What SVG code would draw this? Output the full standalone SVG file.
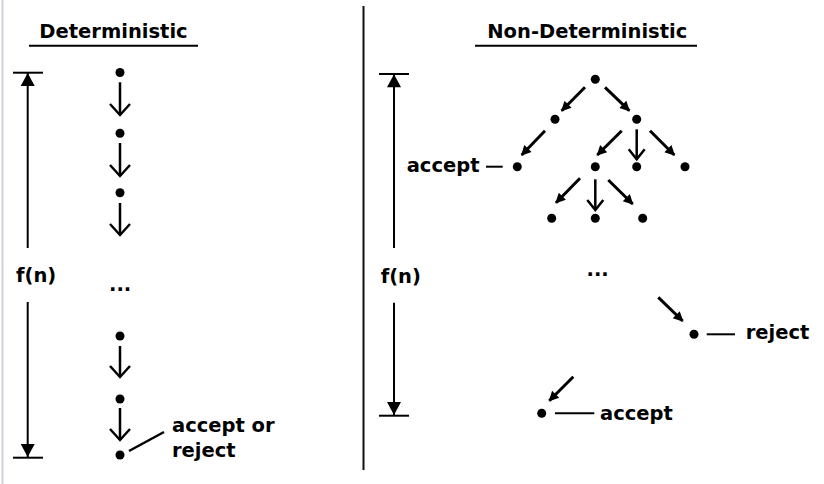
<svg xmlns="http://www.w3.org/2000/svg" width="824" height="484" viewBox="0 0 824 484">
  <style>
    .t { font-family: "DejaVu Sans", "Liberation Sans", sans-serif; font-weight: bold; font-size: 19.5px; fill: #000; }
    .ln { stroke: #000; stroke-width: 2; fill: none; }
    .ar { stroke: #000; stroke-width: 2.5; fill: none; }
    .dg { stroke: #000; stroke-width: 3; fill: none; marker-end: url(#tri); }
    .dot { fill: #000; }
  </style>
  <defs>
    <marker id="chevL" markerUnits="userSpaceOnUse" refX="0" refY="0" markerWidth="30" markerHeight="30" orient="auto" overflow="visible">
      <path d="M-11,-10 L0,0 L-11,10" fill="none" stroke="#000" stroke-width="2.5"/>
    </marker>
    <marker id="chevS" markerUnits="userSpaceOnUse" refX="0" refY="0" markerWidth="30" markerHeight="30" orient="auto" overflow="visible">
      <path d="M-10,-8 L0,0 L-10,8" fill="none" stroke="#000" stroke-width="2.5"/>
    </marker>
    <marker id="tri" markerUnits="userSpaceOnUse" refX="0" refY="0" markerWidth="30" markerHeight="30" orient="auto" overflow="visible">
      <path d="M-9,-5 L1,0 L-9,5 Z" fill="#000"/>
    </marker>
    <marker id="bar" markerUnits="userSpaceOnUse" refX="0" refY="0" markerWidth="30" markerHeight="30" orient="auto" overflow="visible">
      <path d="M-13,-7 L0,0 L-13,7 Z" fill="#000"/>
    </marker>
  </defs>

  <rect x="0" y="0" width="824" height="484" fill="#fff"/>
  <line x1="2.5" y1="0" x2="2.5" y2="484" stroke="#cdd1d8" stroke-width="2"/>
  <line x1="363.5" y1="6" x2="363.5" y2="470" stroke="#111" stroke-width="2"/>

  <!-- Deterministic side -->
  <g id="det-title">
    <text class="t" x="113.5" y="38" text-anchor="middle">Deterministic</text>
    <line class="ln" x1="29" y1="45.7" x2="198" y2="45.7"/>
  </g>
  <g id="det-scale">
    <line class="ln" x1="13" y1="72.7" x2="43" y2="72.7"/>
    <line class="ln" x1="13" y1="457.7" x2="43" y2="457.7"/>
    <line class="ln" x1="27.7" y1="248" x2="27.7" y2="73" marker-end="url(#bar)"/>
    <line class="ln" x1="27.7" y1="302" x2="27.7" y2="457" marker-end="url(#bar)"/>
    <text class="t" x="16" y="281.5">f(n)</text>
  </g>
  <g id="det-nodes">
    <circle class="dot" cx="120" cy="72.5" r="4.5"/>
    <circle class="dot" cx="120" cy="133.3" r="4.5"/>
    <circle class="dot" cx="120" cy="192.7" r="4.5"/>
    <text class="t" x="109" y="290.5">...</text>
    <circle class="dot" cx="120" cy="336" r="4.5"/>
    <circle class="dot" cx="120" cy="399" r="4.5"/>
    <circle class="dot" cx="120" cy="455" r="4.5"/>
    <text class="t" x="172" y="432">accept or</text>
    <text class="t" x="172" y="457">reject</text>
  </g>
  <g id="det-connectors">
    <line class="ar" x1="120" y1="82.3" x2="120" y2="115" marker-end="url(#chevL)"/>
    <line class="ar" x1="120" y1="143" x2="120" y2="176" marker-end="url(#chevL)"/>
    <line class="ar" x1="120" y1="203" x2="120" y2="235" marker-end="url(#chevL)"/>
    <line class="ar" x1="120" y1="346" x2="120" y2="377" marker-end="url(#chevL)"/>
    <line class="ar" x1="120" y1="408" x2="120" y2="440" marker-end="url(#chevL)"/>
    <line class="ar" x1="129" y1="451" x2="164" y2="432"/>
  </g>

  <!-- Non-deterministic side -->
  <g id="nd-title">
    <text class="t" x="587.3" y="38" text-anchor="middle">Non-Deterministic</text>
    <line class="ln" x1="475" y1="45.7" x2="697" y2="45.7"/>
  </g>
  <g id="nd-scale">
    <line class="ln" x1="379" y1="74" x2="409" y2="74"/>
    <line class="ln" x1="379" y1="415.7" x2="409" y2="415.7"/>
    <line class="ln" x1="394" y1="248" x2="394" y2="74.3" marker-end="url(#bar)"/>
    <line class="ln" x1="394" y1="302.7" x2="394" y2="415" marker-end="url(#bar)"/>
    <text class="t" x="380.7" y="283">f(n)</text>
  </g>
  <g id="nd-nodes">
    <circle class="dot" cx="595.3" cy="79.3" r="4.5"/>
    <circle class="dot" cx="555" cy="119.3" r="4.5"/>
    <circle class="dot" cx="636.7" cy="119.3" r="4.5"/>
    <circle class="dot" cx="517.3" cy="166.7" r="4.5"/>
    <circle class="dot" cx="595.3" cy="166.7" r="4.5"/>
    <circle class="dot" cx="636.7" cy="166.7" r="4.5"/>
    <circle class="dot" cx="685" cy="166.7" r="4.5"/>
    <circle class="dot" cx="551.7" cy="218.3" r="4.5"/>
    <circle class="dot" cx="595.3" cy="218.3" r="4.5"/>
    <circle class="dot" cx="642.7" cy="218.3" r="4.5"/>
    <text class="t" x="406.7" y="171.7">accept</text>
    <text class="t" x="586.5" y="275.5">...</text>
    <circle class="dot" cx="694" cy="334.3" r="4.5"/>
    <text class="t" x="745.7" y="339.3">reject</text>
    <circle class="dot" cx="541.7" cy="413.3" r="4.5"/>
    <text class="t" x="600" y="420">accept</text>
  </g>
  <g id="nd-connectors">
    <line class="dg" x1="585" y1="87.3" x2="561.7" y2="110.7"/>
    <line class="dg" x1="605" y1="87.3" x2="629.3" y2="110.7"/>
    <line class="dg" x1="545" y1="130.7" x2="521.7" y2="155"/>
    <line class="dg" x1="621.7" y1="130.7" x2="597.3" y2="155"/>
    <line class="ar" x1="636.7" y1="129.3" x2="636.7" y2="159.3" marker-end="url(#chevS)"/>
    <line class="dg" x1="650" y1="130.7" x2="674.3" y2="155"/>
    <line class="dg" x1="580" y1="178.3" x2="556" y2="202.7"/>
    <line class="ar" x1="595.3" y1="179.3" x2="595.3" y2="210" marker-end="url(#chevS)"/>
    <line class="dg" x1="608.3" y1="180" x2="632.7" y2="204"/>
    <line class="dg" x1="658.3" y1="297.3" x2="682.7" y2="321"/>
    <line class="dg" x1="573.3" y1="376.7" x2="549.3" y2="400.7"/>
    <line class="ln" x1="486" y1="166.7" x2="502.7" y2="166.7"/>
    <line class="ln" x1="706.7" y1="334.3" x2="735" y2="334.3"/>
    <line class="ln" x1="555" y1="413.3" x2="594.3" y2="413.3"/>
  </g>
</svg>
